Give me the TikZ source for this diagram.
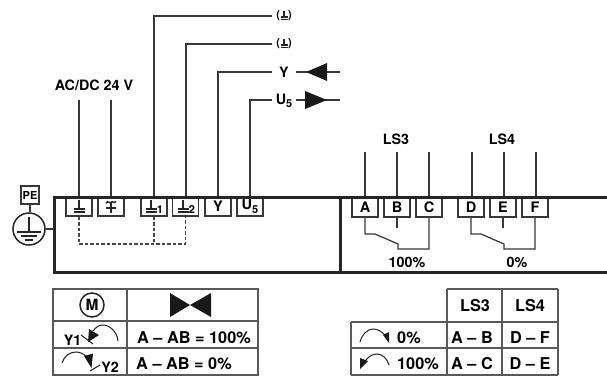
\documentclass[tikz,border=0pt]{standalone}
\usepackage{fontspec}
\setmainfont{TeX Gyre Heros}
\usetikzlibrary{calc}
\newcommand{\bsize}[1]{\bfseries\fontsize{#1}{#1}\selectfont}
\newcommand{\subn}[1]{\raisebox{-0.25em}{\fontsize{11}{11}\selectfont #1}}
\tikzset{
  x=1pt,y=-1pt,
  wire/.style={line width=1.25pt,draw=black!78},
  frame/.style={line width=3pt,draw=black!85},
  dash wire/.style={line width=1.2pt,draw=black!72,dash pattern=on 3.5pt off 2pt},
  tbox/.style={draw=black!78,line width=1.25pt,fill=white,minimum width=26pt,minimum height=19pt,inner sep=0pt,font=\bsize{14.5}},
  lab/.style={inner sep=0pt,font=\bsize{14.3}},
  cell/.style={inner sep=0pt,font=\bsize{16.3}},
  grid/.style={line width=1.2pt,draw=black!65},
  solid tri/.style={fill=black!90,draw=none},
  arc line/.style={line width=1.05pt,draw=black!85},
  gnd/.style={line width=1.5pt,draw=black!85}
}
% small earth symbol: stem, bar, bar
\newcommand{\earth}[2]{%
  \draw[gnd] (#1,#2-9) -- (#1,#2);
  \draw[gnd] (#1-5.5,#2) -- (#1+5.5,#2);
  \draw[gnd] (#1-5.5,#2+3) -- (#1+5.5,#2+3);
}
\newcommand{\tinyearth}[2]{%
  \draw[line width=1.1pt,draw=black!85] (#1,#2-5) -- (#1,#2+1);
  \draw[line width=1.1pt,draw=black!85] (#1-3.5,#2+1) -- (#1+3.5,#2+1);
  \draw[line width=1.1pt,draw=black!85] (#1-3.5,#2+3.2) -- (#1+3.5,#2+3.2);
}
\begin{document}
\begin{tikzpicture}
\useasboundingbox (0,0) rectangle (607,377);
\fill[white] (0,0) rectangle (607,377);

% connector end points
\coordinate (e1) at (79,100);
\coordinate (e2) at (111,100);
\coordinate (e3) at (272,16);
\coordinate (e4) at (272,44);
\coordinate (e5) at (272,72);
\coordinate (e6) at (272,100);
\coordinate (ea) at (365,152);
\coordinate (eb) at (397,152);
\coordinate (ec) at (429,152);
\coordinate (ed) at (472,152);
\coordinate (ee) at (504,152);
\coordinate (ef) at (536,152);

% wires above the housing
\draw[wire] (79,197) -- (e1);
\draw[wire] (111,197) -- (e2);
\draw[wire] (154,197) |- (e3);
\draw[wire] (186,197) |- (e4);
\draw[wire] (218,197) |- (e5);
\draw[wire] (250,197) |- (e6);
\draw[wire] (365,197) -- (ea);
\draw[wire] (397,197) -- (eb);
\draw[wire] (429,197) -- (ec);
\draw[wire] (472,197) -- (ed);
\draw[wire] (504,197) -- (ee);
\draw[wire] (536,197) -- (ef);

% terminals
\node[tbox] (t1) at (79,206.5) {};
\node[tbox] (t2) at (111,206.5) {};
\node[tbox] (t3) at (154,206.5) {};
\node[tbox] (t4) at (185.5,206.5) {};
\node[tbox] (t5) at (218,206.5) {Y};
\node[tbox] (t6) at (250,206.5) {U\subn{5}};
\node[tbox] (ta) at (365,207.5) {A};
\node[tbox] (tb) at (397,207.5) {B};
\node[tbox] (tc) at (429,207.5) {C};
\node[tbox] (td) at (471,207.5) {D};
\node[tbox] (te) at (503,207.5) {E};
\node[tbox] (tf) at (535,207.5) {F};

% housing
\draw[frame] (607,197) -- (54,197) -- (54,272) -- (607,272);
\draw[frame] (340,197) -- (340,272);

% terminal symbols
\earth{79}{209}
\draw[gnd] (111,203) -- (111,213);
\draw[gnd,line width=2pt] (106,207.5) -- (116,207.5);
\draw[gnd] (106,203) .. controls (108,200) and (110,204) .. (111,202.5) .. controls (112,200.5) and (114,204) .. (116,201.5);
\earth{151}{209}
\node[inner sep=0pt,font=\bsize{11}] (n1) at (160,210) {1};
\earth{183}{209}
\node[inner sep=0pt,font=\bsize{11}] (n2) at (192,210) {2};

% dashed bridges
\draw[dash wire] (t1.south) |- (t4.south |- 0,244) -- (t4.south);
\draw[dash wire] (t3.south) -- (t3.south |- 0,244);

% PE
\node[draw=black!78,line width=1.3pt,minimum width=18pt,minimum height=18pt,inner sep=0pt,font=\bsize{11}] (pe) at (30,195) {PE};
\node[draw=black!85,line width=1.5pt,circle,minimum size=32pt,inner sep=0pt] (pg) at (29,229) {};
\draw[wire] (pe.south) -- (pe.south |- pg.north);
\draw[wire] (pg.east) -- (54,229);
\draw[gnd,line width=1.8pt] (29,217) -- (29,231);
\draw[gnd,line width=1.8pt] (17,232) -- (41,232);
\draw[gnd,line width=1.8pt] (21,236) -- (37,236);
\draw[gnd,line width=1.8pt] (25,240) -- (33,240);

% labels
\node[lab] (acdc) at (94,85) {AC/DC 24 V};
\node[lab] (lg1) at (284,16) {\fontsize{11}{11}\selectfont(\hspace{8pt})};
\tinyearth{284}{16}
\node[lab] (lg2) at (284,44) {\fontsize{11}{11}\selectfont(\hspace{8pt})};
\tinyearth{284}{44}
\node[lab] (ly) at (284,72) {Y};
\node[lab] (lu) at (284,101) {U\subn{5}};
\node[lab] (ls3) at (396,139) {LS3};
\node[lab] (ls4) at (502,139) {LS4};
\node[lab] (p100) at (407,262) {100\%};
\node[lab] (p0) at (517,262) {0\%};

% Y / U5 feeds
\coordinate (ys) at (296,72);
\coordinate (ye) at (340,72);
\coordinate (us) at (296,100);
\coordinate (ue) at (340,100);
\draw[wire] (ys) -- (ye);
\draw[wire] (us) -- (ue);
\fill[solid tri] (306,72) -- (327,63) -- (327,81) -- cycle;
\fill[solid tri] (305,91) -- (327,100) -- (305,109) -- cycle;

% contacts LS3
\draw[wire] (ta.south) |- (375,234) -- (398,244) -- (398,249) -| (tc.south);
\draw[wire] (tb.south) -- ++(0,10);
% contacts LS4
\draw[wire] (td.south) |- (481,234) -- (504,244) -- (504,249) -| (tf.south);
\draw[wire] (te.south) -- ++(0,10);

% left table
\draw[grid] (53,289) rectangle (258,375);
\draw[grid] (127,289) -- (127,375);
\draw[grid] (53,321) -- (258,321);
\draw[grid] (53,348) -- (258,348);
\node[draw=black!85,line width=1.5pt,circle,minimum size=24pt,inner sep=0pt,font=\bsize{15.5}] (m) at (92,305) {M};
\fill[solid tri] (170,293) -- (190,305) -- (211,293) -- (211,317) -- (190,305) -- (170,317) -- cycle;
\node[cell] (c1) at (194,338) {A – AB = 100\%};
\node[cell,anchor=west] (c2) at (136,364) {A – AB = 0\%};
\node[lab] (y1) at (72.5,340) {Y1};
\node[lab] (y2) at (110,367) {Y2};
\draw[arc line] (118,341) .. controls (117,331) and (109,325) .. (103,325) .. controls (99,325) and (96,327) .. (93,331);
\fill[solid tri] (88,342) -- (89,329) -- (99,335) -- cycle;
\draw[arc line] (81,335) -- (93,344);
\draw[arc line] (62,363) .. controls (64,356) and (70,352) .. (76,352) .. controls (80,352) and (84,354) .. (87,357);
\fill[solid tri] (91.5,368) -- (84,356) -- (93,353.5) -- cycle;
\draw[arc line] (90,371) -- (100,365);

% right table
\draw[grid] (447,289) -- (558,289);
\draw[grid] (351,322) -- (558,322);
\draw[grid] (351,348) -- (558,348);
\draw[grid] (351,375) -- (558,375);
\draw[grid] (351,322) -- (351,375);
\draw[grid] (447,289) -- (447,375);
\draw[grid] (502,289) -- (502,375);
\draw[grid] (558,289) -- (558,375);
\node[cell] (h3) at (475,306) {LS3};
\node[cell] (h4) at (530,306) {LS4};
\node[cell] (r0) at (409,338) {0\%};
\node[cell] (r100) at (418,364) {100\%};
\node[cell] (ab) at (472,338) {A – B};
\node[cell] (ac) at (472,364) {A – C};
\node[cell] (df) at (530,338) {D – F};
\node[cell] (de) at (530,364) {D – E};
\draw[arc line] (360,342) .. controls (362,334) and (368,329) .. (373,329) .. controls (377,329) and (381,331) .. (385,335);
\fill[solid tri] (383,335) -- (389,332) -- (389,343) -- cycle;
\draw[arc line] (389,365) .. controls (387,358) and (382,354) .. (377,354) .. controls (373,354) and (369,356) .. (366,360);
\fill[solid tri] (360,358) -- (368,361) -- (360,369) -- cycle;
\end{tikzpicture}
\end{document}
